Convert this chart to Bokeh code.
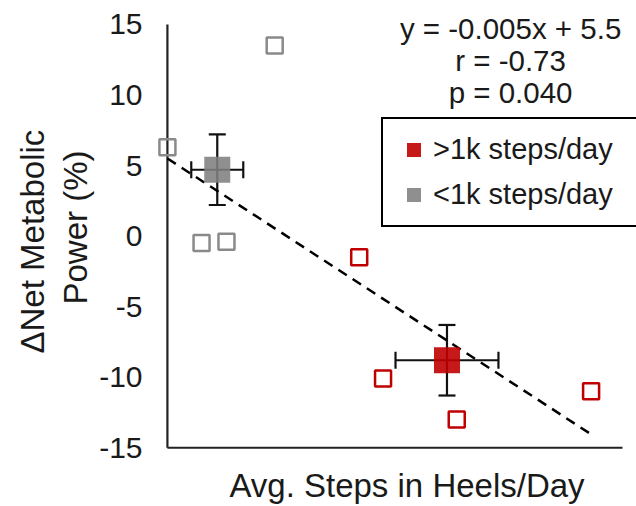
from bokeh.embed import file_html
from bokeh.models import (ColumnDataSource, FixedTicker, Label, Legend,
                          LegendItem, Range1d, TeeHead, Title, Whisker)
from bokeh.plotting import figure
from bokeh.resources import INLINE

# Individual participants: average steps in heels per day vs. change in net metabolic power (%)
low_steps = [0, 990, 315, 545]          # <1k steps/day group
low_power = [6.3, 13.5, -0.5, -0.4]
high_steps = [1770, 1990, 2670, 3910]   # >1k steps/day group
high_power = [-1.5, -10.1, -13.0, -11.0]

# Group means with standard deviations
group_names = [">1k steps/day", "<1k steps/day"]
mean_steps = [2580, 460]
mean_power = [-8.8, 4.7]
sd_steps = [475, 240]
sd_power = [2.5, 2.5]

# Linear fit: y = slope * x + intercept
slope = -0.005
intercept = 5.5
fit_x = [0, 3900]
r_value = -0.73
p_value = 0.040

# axis extents
x_min, x_max = 0, 4200
y_min, y_max = -15, 15
y_ticks = [-15, -10, -5, 0, 5, 10, 15]
y_tick_labels = ["-15", "-10", "-5", "0", "5", "10", "15"]
y_title_lines = ["Power (%)", "\u0394Net Metabolic"]   # inner line first

RED = "#C00000"
GRAY = "#808080"
TEXT = "#1a1a1a"
AXIS = "#222222"
FONT = "Liberation Sans"

# The frame reaches the canvas edges (except the tick-label column) so that the
# statistics, the legend and the x title can sit freely around the data area.
p = figure(width=636, height=506, output_backend="svg", toolbar_location=None,
           x_range=Range1d(-110, 4329), y_range=Range1d(-19.165, 16.694),
           x_axis_location=None,
           min_border_left=155, min_border_right=0,
           min_border_top=0, min_border_bottom=0)
p.outline_line_color = None
p.grid.visible = False
p.background_fill_color = "white"
p.border_fill_color = "white"

# y axis: tick labels
yax = p.yaxis[0]
yax.axis_line_color = None
yax.major_tick_line_color = None
yax.minor_tick_line_color = None
yax.major_tick_out = 0
yax.major_tick_in = 0
yax.ticker = FixedTicker(ticks=y_ticks)
yax.major_label_overrides = {t: s for t, s in zip(y_ticks, y_tick_labels)}
yax.major_label_text_font = FONT
yax.major_label_text_font_size = "30px"
yax.major_label_text_color = TEXT
yax.major_label_standoff = 13

# y title, two lines, centred on the y = -15..15 span
for txt, off, gap in zip(y_title_lines, [202, 153], [6, 2]):
    p.add_layout(Title(text=txt, align="left", offset=off, text_font=FONT,
                       text_font_style="normal", text_font_size="33px",
                       text_color=TEXT, standoff=gap), "left")

# axis lines meeting at (0, -15)
p.segment(x0=[x_min, x_min], y0=[y_min, y_min], x1=[x_min, x_max], y1=[y_max, y_min],
          line_color=AXIS, line_width=2.2)

p.add_layout(Label(x=2211, y=-17.68, text="Avg. Steps in Heels/Day", text_align="center",
                   text_baseline="middle", text_font=FONT, text_font_size="33px",
                   text_color=TEXT))

# regression line
fit_y = [slope * x + intercept for x in fit_x]
p.line(fit_x, fit_y, line_color="black", line_width=2.5, line_dash="10 7")

# individual participants (open squares)
p.scatter(low_steps, low_power, marker="square", size=16, fill_color=None,
          line_color="#8a8a8a", line_width=2.5)
p.scatter(high_steps, high_power, marker="square", size=16, fill_color=None,
          line_color=RED, line_width=2.5)

# error bars for group means
src = ColumnDataSource(dict(
    x=mean_steps, y=mean_power,
    xl=[m - s for m, s in zip(mean_steps, sd_steps)],
    xu=[m + s for m, s in zip(mean_steps, sd_steps)],
    yl=[m - s for m, s in zip(mean_power, sd_power)],
    yu=[m + s for m, s in zip(mean_power, sd_power)],
))


def head():
    return TeeHead(size=17, line_width=2.2, line_color="#111111")


p.add_layout(Whisker(source=src, base="x", lower="yl", upper="yu", dimension="height",
                     line_width=2.2, line_color="#111111",
                     lower_head=head(), upper_head=head(), level="underlay"))
p.add_layout(Whisker(source=src, base="y", lower="xl", upper="xu", dimension="width",
                     line_width=2.2, line_color="#111111",
                     lower_head=head(), upper_head=head(), level="underlay"))

# group means (filled squares)
mean_r = p.scatter([mean_steps[0]], [mean_power[0]], marker="square", size=26,
                   fill_color=RED, fill_alpha=0.9, line_color=None)
mean_g = p.scatter([mean_steps[1]], [mean_power[1]], marker="square", size=26,
                   fill_color=GRAY, fill_alpha=0.88, line_color=None)

legend = Legend(items=[LegendItem(label=group_names[0], renderers=[mean_r]),
                       LegendItem(label=group_names[1], renderers=[mean_g])],
                location=(226, 279))
legend.label_text_font = FONT
legend.label_text_font_size = "29px"
legend.label_text_color = TEXT
legend.glyph_width = 35
legend.glyph_height = 35
legend.label_height = 35
legend.label_width = 200
legend.label_standoff = 2
legend.spacing = 10
legend.padding = 13
legend.margin = 0
legend.border_line_color = "black"
legend.border_line_alpha = 1
legend.border_line_width = 2
legend.background_fill_color = "white"
legend.background_fill_alpha = 1
p.add_layout(legend)

# fit statistics
stats = [f"y = {slope}x + {intercept}", f"r = {r_value:.2f}", f"p = {p_value:.3f}"]
for txt, yy in zip(stats, [14.7, 12.45, 10.2]):
    p.add_layout(Label(x=3167, y=yy, text=txt, text_align="center",
                       text_baseline="alphabetic", text_font=FONT,
                       text_font_size="29.5px", text_color=TEXT))

open("out.html", "w").write(file_html(p, INLINE))
